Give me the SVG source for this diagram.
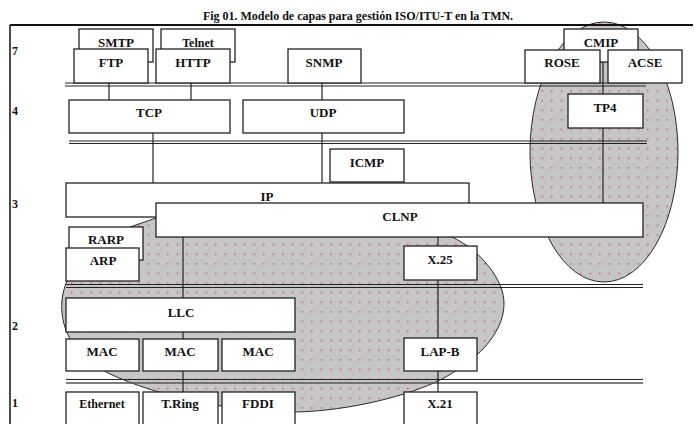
<svg xmlns="http://www.w3.org/2000/svg" width="695" height="424" viewBox="0 0 695 424">
<defs>
<pattern id="dots" x="0" y="0" width="9.6" height="9.6" patternUnits="userSpaceOnUse">
<rect width="9.6" height="9.6" fill="#c6c6c6"/>
<rect x="4" y="4" width="1.3" height="1.3" fill="#c8327c"/>
</pattern>
<style>
text{font-family:"Liberation Serif","Times New Roman",serif;font-weight:bold;font-size:13px;fill:#111;text-anchor:middle}
.num{text-anchor:start;font-size:12px}
.box{fill:#fff;stroke:#222;stroke-width:1.3}
.blob{fill:url(#dots);stroke:#2a2a2a;stroke-width:1}
.dl{stroke:#222;stroke-width:1;fill:none}
.dl2{stroke:#555;stroke-width:1.4;fill:none}
.con{stroke:#222;stroke-width:1.2;fill:none}
.frame{stroke:#111;fill:none}
</style>
</defs>
<rect width="695" height="424" fill="#fff"/>

<text x="358" y="20" style="font-size:12px">Fig 01. Modelo de capas para gestión ISO/ITU-T en la TMN.</text>

<g id="shading">
<ellipse class="blob" cx="604" cy="152" rx="74" ry="130"/>
<path class="blob" d="M 156 218 L 133 226 C 100 238, 66 262, 62 300 C 59 335, 80 358, 108 373 C 160 398, 240 413, 295 412 C 350 411, 410 395, 440 380 C 475 362, 503 335, 504 305 C 505 280, 480 250, 452 237 L 440 232 Z"/>
</g>

<g id="frame">
<line class="frame" x1="10" y1="25" x2="693" y2="25" stroke-width="2"/>
<line class="frame" x1="10" y1="25" x2="10" y2="424" stroke-width="1.5"/>
<text class="num" x="12" y="55">7</text>
<text class="num" x="12" y="115">4</text>
<text class="num" x="12" y="208">3</text>
<text class="num" x="12" y="330">2</text>
<text class="num" x="12" y="407">1</text>
</g>

<g id="layer-lines">
<line class="dl" x1="65" y1="83" x2="646" y2="83"/>
<line class="dl" x1="65" y1="86" x2="646" y2="86"/>
<line class="dl" x1="69" y1="141" x2="647" y2="141"/>
<line class="dl" x1="69" y1="143.5" x2="647" y2="143.5"/>
<line class="dl" x1="66" y1="284.5" x2="643" y2="284.5"/>
<line class="dl" x1="66" y1="287.5" x2="643" y2="287.5"/>
<line class="dl" x1="66" y1="379.5" x2="643" y2="379.5"/>
<line class="dl2" x1="66" y1="383" x2="643" y2="383"/>
</g>

<g id="connectors">
<line class="con" x1="109" y1="83" x2="109" y2="100"/>
<line class="con" x1="191" y1="83" x2="191" y2="100"/>
<line class="con" x1="322" y1="83" x2="322" y2="100"/>
<line class="con" x1="153" y1="133" x2="153" y2="183"/>
<line class="con" x1="322" y1="133" x2="322" y2="183"/>
<line class="con" x1="603" y1="62" x2="603" y2="203"/>
<line class="con" x1="183" y1="237" x2="183" y2="298"/>
<line class="con" x1="183" y1="332" x2="183" y2="392"/>
<line class="con" x1="438" y1="237" x2="438" y2="392"/>
</g>

<g id="smtp"><rect class="box" x="79" y="29" width="74" height="33"/><text x="116" y="47">SMTP</text></g>
<g id="ftp"><rect class="box" x="74" y="49" width="74" height="34"/><text x="111" y="67">FTP</text></g>
<g id="telnet"><rect class="box" x="161" y="29" width="74" height="33"/><text x="198" y="47" style="font-size:12px">Telnet</text></g>
<g id="http"><rect class="box" x="156" y="49" width="74" height="34"/><text x="193" y="67">HTTP</text></g>
<g id="snmp"><rect class="box" x="288" y="49" width="73" height="34"/><text x="324" y="67">SNMP</text></g>
<g id="cmip"><rect class="box" x="564" y="29" width="74" height="33"/><text x="601" y="47">CMIP</text></g>
<g id="rose"><rect class="box" x="525" y="50" width="75" height="33"/><text x="562" y="67">ROSE</text></g>
<g id="acse"><rect class="box" x="608" y="50" width="74" height="33"/><text x="645" y="67">ACSE</text></g>

<g id="tcp"><rect class="box" x="69" y="100" width="161" height="33"/><text x="149" y="117">TCP</text></g>
<g id="udp"><rect class="box" x="243" y="100" width="161" height="33"/><text x="323" y="117">UDP</text></g>
<g id="tp4"><rect class="box" x="568" y="94" width="75" height="34"/><text x="605" y="112">TP4</text></g>

<g id="icmp"><rect class="box" x="330" y="149" width="74" height="33"/><text x="367" y="167">ICMP</text></g>
<g id="ip"><rect class="box" x="66" y="183" width="403" height="34"/><text x="267" y="201">IP</text></g>
<g id="clnp"><rect class="box" x="156" y="203" width="487" height="34"/><text x="400" y="221">CLNP</text></g>
<g id="rarp"><rect class="box" x="69" y="227" width="74" height="33"/><text x="106" y="244">RARP</text></g>
<g id="arp"><rect class="box" x="66" y="248" width="73" height="33"/><text x="103" y="265">ARP</text></g>
<g id="x25"><rect class="box" x="404" y="246" width="73" height="34"/><text x="440" y="264">X.25</text></g>

<g id="llc"><rect class="box" x="66" y="298" width="229" height="34"/><text x="181" y="317">LLC</text></g>
<g id="mac1"><rect class="box" x="66" y="339" width="73" height="32"/><text x="102" y="356">MAC</text></g>
<g id="mac2"><rect class="box" x="143" y="339" width="75" height="32"/><text x="180" y="356">MAC</text></g>
<g id="mac3"><rect class="box" x="222" y="339" width="73" height="32"/><text x="258" y="356">MAC</text></g>
<g id="lapb"><rect class="box" x="404" y="338" width="73" height="33"/><text x="440" y="356">LAP-B</text></g>

<g id="ethernet"><rect class="box" x="66" y="392" width="73" height="40"/><text x="102" y="408" style="font-size:12px">Ethernet</text></g>
<g id="tring"><rect class="box" x="143" y="392" width="75" height="40"/><text x="180" y="408">T.Ring</text></g>
<g id="fddi"><rect class="box" x="222" y="392" width="73" height="40"/><text x="258" y="408">FDDI</text></g>
<g id="x21"><rect class="box" x="404" y="392" width="73" height="40"/><text x="440" y="408">X.21</text></g>
</svg>
